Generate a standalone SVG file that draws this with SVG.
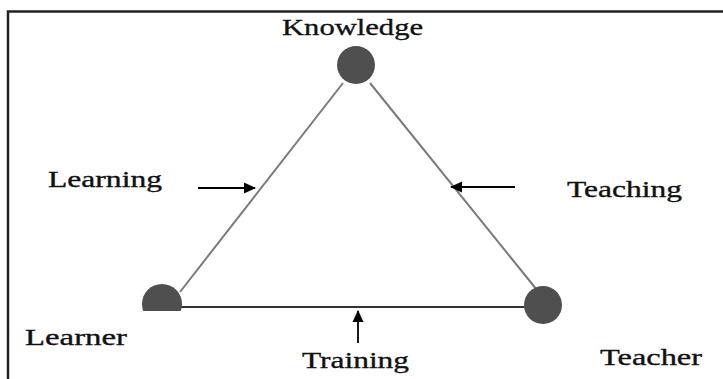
<svg xmlns="http://www.w3.org/2000/svg" width="723" height="379" viewBox="0 0 723 379">
<defs>
<style>
.lbl{font-family:"Liberation Serif","Times New Roman",serif;font-size:24px;fill:#111;stroke:#111;stroke-width:0.35;}
.node{fill:#4f4f4f;}
.edge{stroke:#7a7a7a;stroke-width:2;fill:none;}
.arr{stroke:#000;stroke-width:1.8;fill:none;}
</style>
<marker id="ah" markerWidth="12" markerHeight="12" refX="11" refY="6" orient="auto" markerUnits="userSpaceOnUse">
<path d="M0,0.5 L12,6 L0,11.5 Z" fill="#000"/>
</marker>
<clipPath id="cut"><rect x="0" y="0" width="723" height="311"/></clipPath>
</defs>
<rect width="723" height="379" fill="#fff"/>
<g id="frame">
<path d="M8,379 V11.5 H723" stroke="#222" stroke-width="2.5" fill="none"/>
</g>
<g id="connectors">
<line class="edge" x1="343" y1="83" x2="180" y2="292"/>
<line class="edge" x1="370" y1="83" x2="537" y2="290"/>
<line x1="178" y1="307" x2="528" y2="307" stroke="#333" stroke-width="2"/>
<line class="arr" x1="198" y1="188" x2="255" y2="188" marker-end="url(#ah)"/>
<line class="arr" x1="515" y1="187" x2="451" y2="187" marker-end="url(#ah)"/>
<line class="arr" x1="358" y1="343" x2="358" y2="311" marker-end="url(#ah)"/>
</g>
<g id="knowledge">
<circle class="node" cx="356" cy="65" r="19"/>
<text class="lbl" x="282" y="35" textLength="141" lengthAdjust="spacingAndGlyphs">Knowledge</text>
</g>
<g id="learner">
<circle class="node" cx="162" cy="304" r="20" clip-path="url(#cut)"/>
<text class="lbl" x="25" y="345" textLength="102" lengthAdjust="spacingAndGlyphs">Learner</text>
</g>
<g id="teacher">
<circle class="node" cx="543" cy="305" r="19"/>
<text class="lbl" x="600" y="365" textLength="102" lengthAdjust="spacingAndGlyphs">Teacher</text>
</g>
<g id="labels">
<text class="lbl" x="48" y="187" textLength="114" lengthAdjust="spacingAndGlyphs">Learning</text>
<text class="lbl" x="567" y="197" textLength="115" lengthAdjust="spacingAndGlyphs">Teaching</text>
<text class="lbl" x="302" y="368" textLength="107" lengthAdjust="spacingAndGlyphs">Training</text>
</g>
</svg>
